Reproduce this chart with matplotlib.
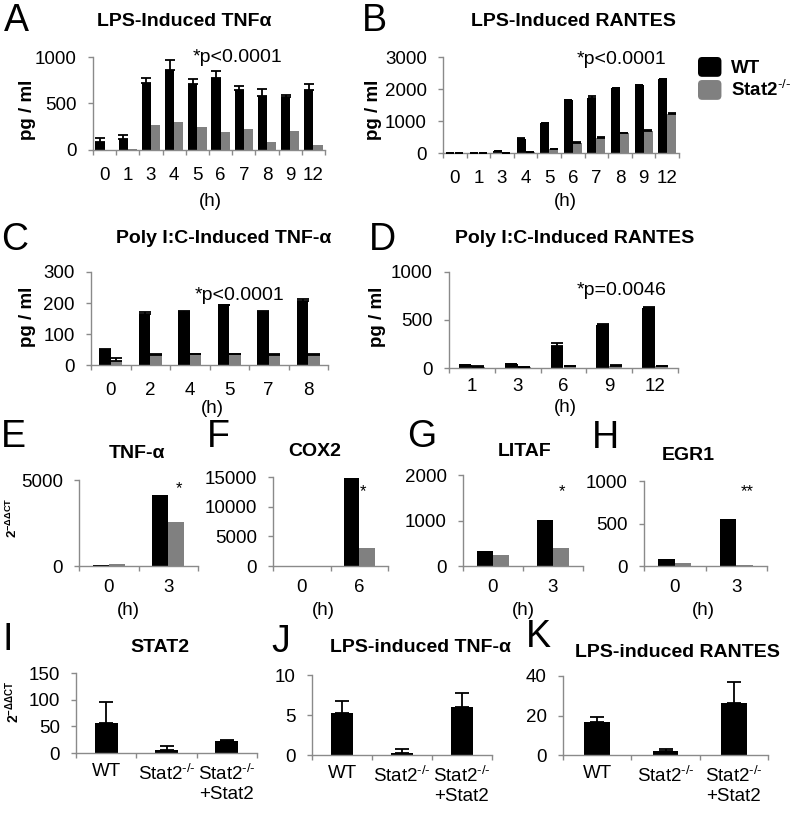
import numpy as np
import matplotlib
matplotlib.use("Agg")
import matplotlib.pyplot as plt
from matplotlib.patches import Rectangle, FancyBboxPatch
from matplotlib.legend_handler import HandlerPatch

plt.rcParams['font.family'] = ['Liberation Sans', 'DejaVu Sans']
plt.rcParams['mathtext.fontset'] = 'custom'
plt.rcParams['mathtext.rm'] = 'Liberation Sans'
plt.rcParams['mathtext.bf'] = 'Liberation Sans:bold'
plt.rcParams['mathtext.it'] = 'Liberation Sans:italic'

# ---------------- data ----------------
a_hours = ['0', '1', '3', '4', '5', '6', '7', '8', '9', '12']
a_wt = [89, 115, 720, 865, 705, 770, 645, 585, 570, 650]
a_wt_err = [35, 45, 58, 100, 57, 80, 46, 72, 26, 64]
a_ko = [0, 15, 268, 296, 250, 196, 221, 82, 204, 54]

b_hours = ['0', '1', '3', '4', '5', '6', '7', '8', '9', '12']
b_wt = [5, 5, 60, 450, 930, 1650, 1720, 2030, 2120, 2300]
b_wt_err = [0, 0, 10, 10, 10, 10, 70, 15, 20, 10]
b_ko = [10, 10, 10, 30, 115, 320, 470, 610, 700, 1230]
b_ko_err = [0, 0, 0, 0, 15, 20, 40, 15, 20, 10]

c_hours = ['0', '2', '4', '5', '7', '8']
c_wt = [48, 164, 172, 193, 172, 205]
c_wt_err = [2, 7, 2, 2, 3, 7]
c_ko = [12, 33, 34, 34, 33, 33]
c_ko_err = [11, 1, 1, 1, 1, 1]

d_hours = ['1', '3', '6', '9', '12']
d_wt = [28, 38, 225, 450, 620]
d_wt_err = [4, 5, 32, 6, 15]
d_ko = [14, 12, 20, 25, 20]
d_ko_err = [3, 2, 3, 3, 3]

e_hours = ['0', '3']
e_wt = [30, 4100]
e_ko = [90, 2550]

f_hours = ['0', '6']
f_wt = [0, 14800]
f_ko = [0, 3100]

g_hours = ['0', '3']
g_wt = [330, 1015]
g_ko = [235, 397]

h_hours = ['0', '3']
h_wt = [78, 553]
h_ko = [35, 16]

HY = '\u2010'
groups = ['WT', 'Stat2$^{%s/%s}$' % (HY, HY), 'Stat2$^{%s/%s}$\n+Stat2' % (HY, HY)]
i_vals = [57, 6, 23]
i_err = [39, 7, 2]
j_vals = [5.3, 0.3, 6.0]
j_err = [1.5, 0.4, 1.7]
k_vals = [16.9, 2.0, 26.1]
k_err = [2.5, 0.8, 11.0]

legend_labels = ['WT', 'Stat2$^{%s/%s}$' % (HY, HY)]

# ---------------- figure ----------------
W, H = 793, 813
fig = plt.figure(figsize=(W / 100, H / 100), dpi=100)
SPINE = '#8a8a8a'
GRAY = '#808080'
TICKFS = 13.5


def add_ax(l, t, r, b):
    return fig.add_axes([l / W, 1 - b / H, (r - l) / W, (b - t) / H])


def ftext(x, y, s, **kw):
    kw.setdefault('ha', 'center')
    kw.setdefault('va', 'center')
    return fig.text(x / W, 1 - y / H, s, **kw)


def style(ax, labels, ymax, ystep, xpad, fs=TICKFS):
    n = len(labels)
    ax.set_xlim(-0.5, n - 0.5)
    ax.set_ylim(0, ymax)
    for s in ['top', 'right']:
        ax.spines[s].set_visible(False)
    for s in ['left', 'bottom']:
        ax.spines[s].set_color(SPINE)
        ax.spines[s].set_linewidth(1.0)
    ax.set_xticks(np.arange(n))
    ax.set_xticklabels(labels, fontsize=fs)
    ax.set_xticks(np.arange(n + 1) - 0.5, minor=True)
    ax.tick_params(axis='x', which='major', length=0, pad=xpad)
    ax.tick_params(axis='x', which='minor', length=3.6, width=1.0, color=SPINE, direction='out')
    ax.set_yticks(np.arange(0, ymax + ystep / 2, ystep))
    ax.tick_params(axis='y', length=3.6, width=1.0, color=SPINE, pad=8, labelsize=fs)
    ax.patch.set_alpha(0)


def paired(ax, wt, ko, w, wt_err=None, ko_err=None, cap=3.2):
    x = np.arange(len(wt))
    ax.bar(x - w / 2, wt, w, color='black', zorder=2)
    ax.bar(x + w / 2, ko, w, color=GRAY, zorder=2)
    if wt_err is not None:
        ax.errorbar(x - w / 2, wt, yerr=[np.zeros(len(wt)), wt_err], fmt='none',
                    ecolor='black', elinewidth=1.3, capsize=cap, capthick=1.3, zorder=3)
    if ko_err is not None:
        ax.errorbar(x + w / 2, ko, yerr=[np.zeros(len(ko)), ko_err], fmt='none',
                    ecolor='black', elinewidth=1.3, capsize=cap, capthick=1.3, zorder=3)


def single(ax, vals, err, w=0.38):
    x = np.arange(len(vals))
    ax.bar(x, vals, w, color='black', zorder=2)
    ax.errorbar(x, vals, yerr=[np.zeros(len(vals)), err], fmt='none',
                ecolor='black', elinewidth=1.3, capsize=5, capthick=1.3, zorder=3)


# Panel A
axA = add_ax(93, 57, 325, 150)
paired(axA, a_wt, a_ko, 0.40, a_wt_err, None, cap=3.3)
style(axA, a_hours, 1000, 500, 12)

# Panel B
axB = add_ax(443, 57, 679, 153)
paired(axB, b_wt, b_ko, 0.38, b_wt_err, b_ko_err, cap=3.2)
style(axB, b_hours, 3000, 1000, 12)

# Panel C
axC = add_ax(91, 272, 328, 365)
paired(axC, c_wt, c_ko, 0.29, c_wt_err, c_ko_err, cap=4)
style(axC, c_hours, 300, 100, 12)

# Panel D
axD = add_ax(449, 272, 678, 368)
paired(axD, d_wt, d_ko, 0.28, d_wt_err, d_ko_err, cap=4)
style(axD, d_hours, 1000, 500, 7.5)

# Panels E-H
axE = add_ax(79, 480, 198, 566)
paired(axE, e_wt, e_ko, 0.27)
style(axE, e_hours, 5000, 5000, 9)

axF = add_ax(273, 477, 388, 566)
paired(axF, f_wt, f_ko, 0.27)
style(axF, f_hours, 15000, 5000, 9)

axG = add_ax(463, 475, 583, 566)
paired(axG, g_wt, g_ko, 0.27)
style(axG, g_hours, 2000, 1000, 9)

axH = add_ax(644, 481, 767, 566)
paired(axH, h_wt, h_ko, 0.27)
style(axH, h_hours, 1000, 500, 9)

# Panels I-K
axI = add_ax(76, 673, 257, 753)
single(axI, i_vals, i_err)
style(axI, groups, 150, 50, 7.5)

axJ = add_ax(312, 675, 492, 755)
single(axJ, j_vals, j_err)
style(axJ, groups, 10, 5, 7.5)

axK = add_ax(563, 676, 768, 755)
single(axK, k_vals, k_err)
style(axK, groups, 40, 20, 7.5)

# ---------------- texts ----------------
TF = 14
ftext(184, 21, 'LPS-Induced TNFα', fontsize=TF, fontweight='bold')
ftext(573, 21, 'LPS-Induced RANTES', fontsize=TF, fontweight='bold')
ftext(224, 238, 'Poly I:C-Induced TNF-α', fontsize=TF, fontweight='bold')
ftext(575, 238, 'Poly I:C-Induced RANTES', fontsize=TF, fontweight='bold')
ftext(137, 453, 'TNF-α', fontsize=TF, fontweight='bold')
ftext(315, 451, 'COX2', fontsize=TF, fontweight='bold')
ftext(525, 451, 'LITAF', fontsize=TF, fontweight='bold')
ftext(688, 455, 'EGR1', fontsize=TF, fontweight='bold')
ftext(160, 647, 'STAT2', fontsize=TF, fontweight='bold')
ftext(421, 647, 'LPS-induced TNF-α', fontsize=TF, fontweight='bold')
ftext(677, 652, 'LPS-induced RANTES', fontsize=TF, fontweight='bold')

LF = 27
for (x, y, s) in [(16, 21, 'A'), (374, 21, 'B'), (15, 240, 'C'), (382, 240, 'D'),
                  (13, 437, 'E'), (218, 437, 'F'), (422, 437, 'G'), (605, 438, 'H'),
                  (8, 640, 'I'), (281, 642, 'J'), (538, 637, 'K')]:
    ftext(x, y, s, fontsize=LF)

for (x, y) in [(27, 110), (373, 110), (28, 317), (377, 317)]:
    ftext(x, y, 'pg / ml', fontsize=13.5, fontweight='bold', rotation=90)
ftext(12, 518, r'$\mathregular{2^{-ΔΔCT}}$', fontsize=9.5, fontweight='bold', rotation=90)
ftext(13, 702, r'$\mathregular{2^{-ΔΔCT}}$', fontsize=10, fontweight='bold', rotation=90)

for (x, y) in [(210, 201), (565, 201), (212, 408), (565, 407),
               (128, 610), (323, 610), (523, 610), (703, 610)]:
    ftext(x, y, '(h)', fontsize=13.5)

ftext(238, 58, '*p<0.0001', fontsize=14)
ftext(622, 60, '*p<0.0001', fontsize=14)
ftext(240, 296, '*p<0.0001', fontsize=14)
ftext(622, 290, '*p=0.0046', fontsize=14)

ftext(179, 489, '*', fontsize=12)
ftext(363, 492, '*', fontsize=12)
ftext(562, 492, '*', fontsize=12)
ftext(747, 492, '**', fontsize=12)


# legend with rounded squares
def rounded(legend, orig_handle, xdescent, ydescent, width, height, fontsize):
    return FancyBboxPatch((-xdescent, -ydescent), width, height,
                          boxstyle='round,pad=0,rounding_size=3')


hb = axB.patches[0]
hg = axB.patches[len(b_wt)]
leg = fig.legend([hb, hg], legend_labels, loc='upper left',
                 bbox_to_anchor=(698 / W, 1 - 57 / H), bbox_transform=fig.transFigure,
                 frameon=False, borderpad=0, borderaxespad=0, handlelength=1.25,
                 handleheight=1.25, handletextpad=0.5, labelspacing=0.15,
                 handler_map={Rectangle: HandlerPatch(patch_func=rounded)},
                 prop={'size': 13.5, 'weight': 'bold'})

fig.savefig('out.png', dpi=100)
